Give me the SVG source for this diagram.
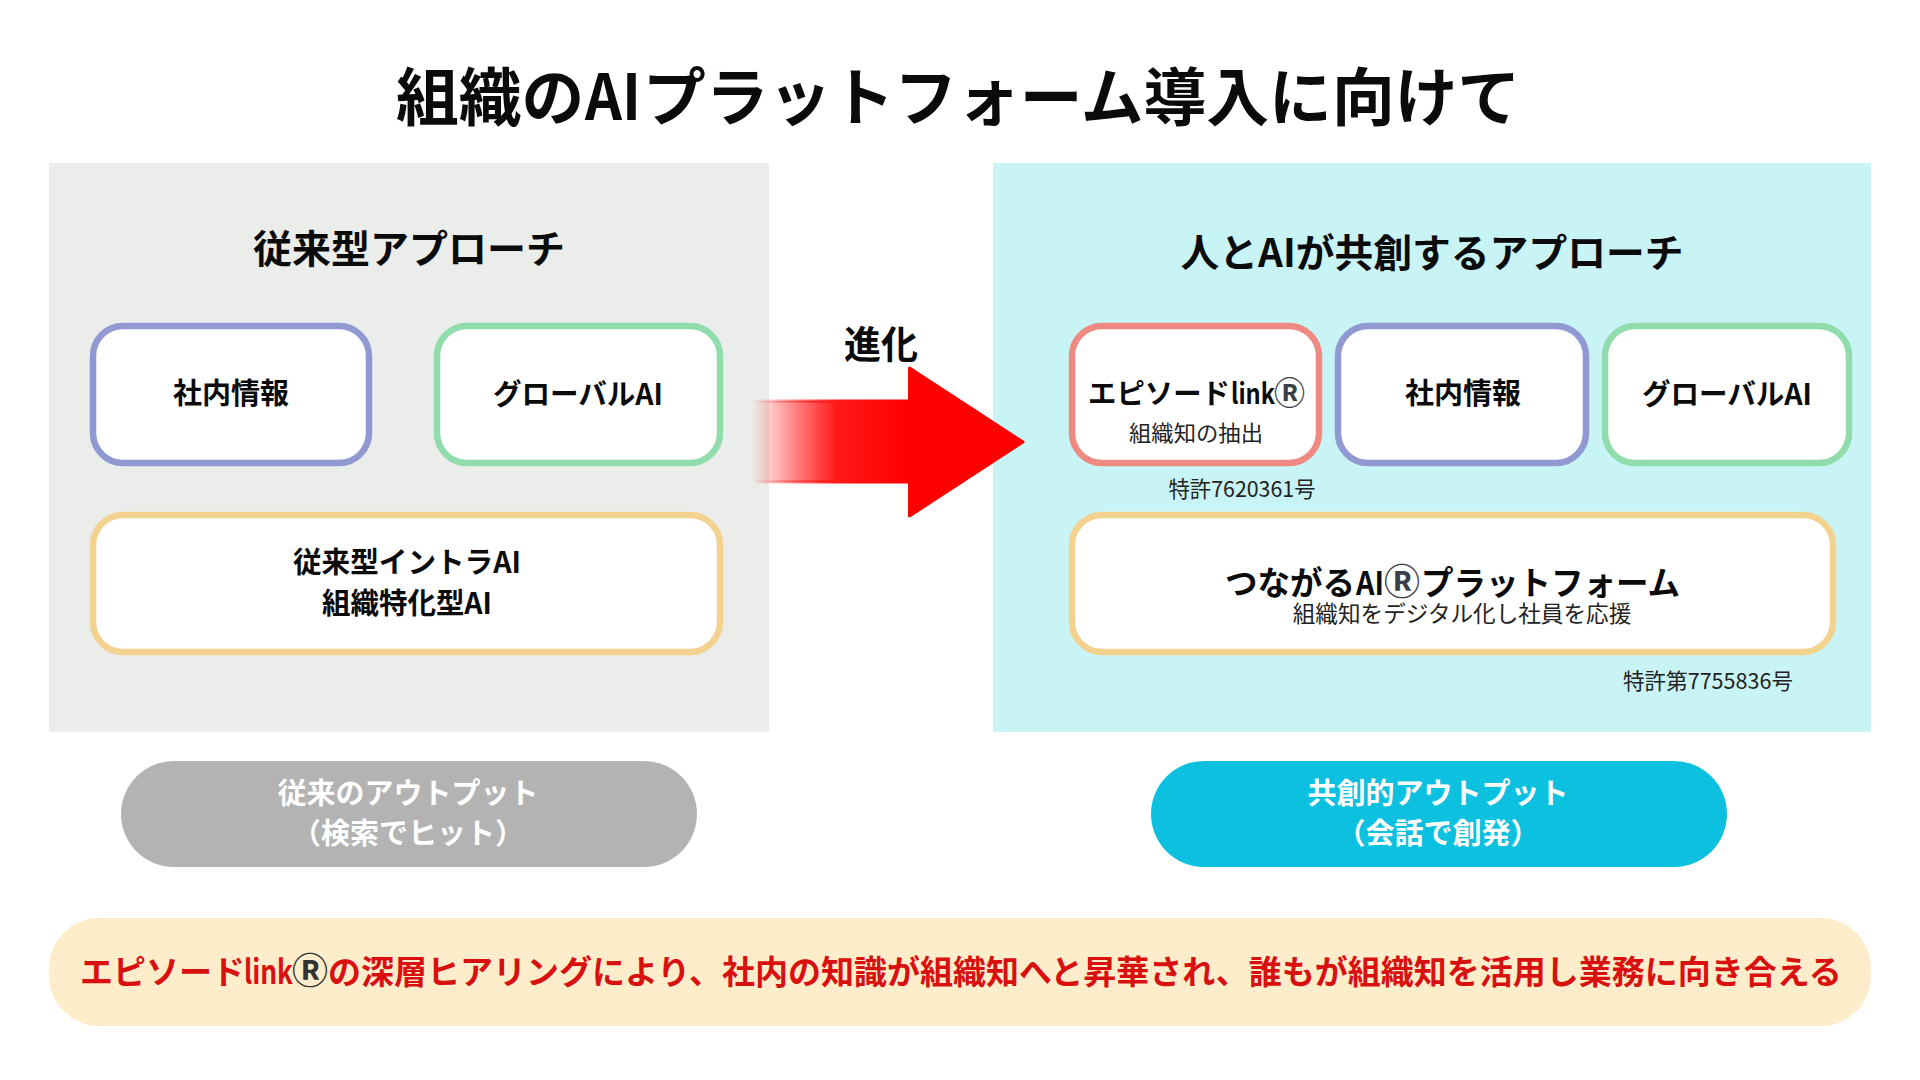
<svg xmlns="http://www.w3.org/2000/svg" width="1920" height="1080" viewBox="0 0 1920 1080">
<style>
text{font-family:"Noto Sans CJK JP","Noto Sans",sans-serif;text-anchor:middle;fill:#0b0b0b}
.b{font-weight:700}
.m{font-weight:400;fill:#222}
.s{text-anchor:start}
.card{fill:#fff;stroke-width:6.500}
.w{fill:#fff;font-weight:700;font-size:29px}
.r{fill:#3a4048;font-weight:700}
</style>
<defs>
<linearGradient id="g" gradientUnits="userSpaceOnUse" x1="752" y1="0" x2="905" y2="0">
<stop offset="0" stop-color="#ff0000" stop-opacity="0"/>
<stop offset="0.55" stop-color="#ff1a1a"/>
<stop offset="1" stop-color="#ff0000"/>
</linearGradient>
</defs>
<rect width="1920" height="1080" fill="#fff"/>
<text id="title" class="b s" y="120" font-size="62.800"><tspan x="396">組織の</tspan><tspan x="585" textLength="56" lengthAdjust="spacingAndGlyphs">AI</tspan><tspan x="643">プラットフォーム導入に向けて</tspan></text>
<g id="panel-left">
<rect x="49" y="163" width="720" height="569" fill="#ebedeb"/>
<text class="b" x="409" y="263" font-size="38.500" textLength="312" lengthAdjust="spacingAndGlyphs">従来型アプローチ</text>
</g>
<g id="panel-right">
<rect x="993" y="163" width="878" height="569" fill="#c8f4f5"/>
<text class="b" x="1432" y="267" font-size="38.500" textLength="503" lengthAdjust="spacingAndGlyphs">人とAIが共創するアプローチ</text>
</g>
<g id="connectors">
<path d="M752 401H909.500V368L1023 442L909.500 516V482H752Z" fill="url(#g)" stroke="url(#g)" stroke-width="3" stroke-linejoin="round"/>
<text class="b" x="881" y="358" font-size="38" textLength="74" lengthAdjust="spacingAndGlyphs">進化</text>
</g>
<g id="n1"><rect class="card" x="93" y="326" width="276" height="137" rx="30" stroke="#9199d2"/>
<text class="b" x="231" y="404" font-size="29">社内情報</text></g>
<g id="n2"><rect class="card" x="437" y="326" width="283" height="137" rx="30" stroke="#90dcac"/>
<text class="b" x="578" y="405" font-size="29" textLength="170" lengthAdjust="spacingAndGlyphs">グローバルAI</text></g>
<g id="n3"><rect class="card" x="93" y="515" width="627" height="137" rx="30" stroke="#f3d28f"/>
<text class="b" x="407" y="573" font-size="29" textLength="228" lengthAdjust="spacingAndGlyphs">従来型イントラAI</text>
<text class="b" x="407" y="614" font-size="29" textLength="170" lengthAdjust="spacingAndGlyphs">組織特化型AI</text></g>
<g id="n4"><rect class="card" x="1072" y="326" width="247" height="137" rx="30" stroke="#ee8a82"/>
<text class="b s" y="404" font-size="28.400"><tspan x="1088">エピソード</tspan><tspan x="1231" textLength="44" lengthAdjust="spacingAndGlyphs">link</tspan><tspan class="r" x="1274" font-size="31">Ⓡ</tspan></text>
<text class="m" x="1196" y="441" font-size="22" textLength="134" lengthAdjust="spacingAndGlyphs">組織知の抽出</text></g>
<g id="n5"><rect class="card" x="1338" y="326" width="248" height="137" rx="30" stroke="#9199d2"/>
<text class="b" x="1463" y="404" font-size="29">社内情報</text></g>
<g id="n6"><rect class="card" x="1605" y="326" width="244" height="137" rx="30" stroke="#90dcac"/>
<text class="b" x="1727" y="405" font-size="29" textLength="170" lengthAdjust="spacingAndGlyphs">グローバルAI</text></g>
<text id="patent1" class="m" x="1242" y="497" font-size="22" textLength="147" lengthAdjust="spacingAndGlyphs">特許7620361号</text>
<g id="n7"><rect class="card" x="1072" y="515" width="761" height="137" rx="30" stroke="#f3d28f"/>
<text class="b s" y="595" font-size="32.500"><tspan x="1225">つながる</tspan><tspan x="1356" textLength="28" lengthAdjust="spacingAndGlyphs">AI</tspan><tspan class="r" x="1384" font-size="36">Ⓡ</tspan><tspan x="1421">プラットフォーム</tspan></text>
<text class="m" x="1462" y="622" font-size="22.600">組織知をデジタル化し社員を応援</text></g>
<text id="patent2" class="m" x="1708" y="689" font-size="22" textLength="170" lengthAdjust="spacingAndGlyphs">特許第7755836号</text>
<g id="out1"><rect x="121" y="761" width="576" height="106" rx="53" fill="#b3b3b3"/>
<text class="w" x="408" y="804">従来のアウトプット</text>
<text class="w" x="408" y="844">（検索でヒット）</text></g>
<g id="out2"><rect x="1151" y="761" width="576" height="106" rx="53" fill="#0cc0df"/>
<text class="w" x="1438" y="804">共創的アウトプット</text>
<text class="w" x="1438" y="844">（会話で創発）</text></g>
<g id="banner"><rect x="49" y="918" width="1822" height="108" rx="50" fill="#fdedca"/>
<text class="b s" y="984" font-size="33" style="fill:#d91010"><tspan x="80">エピソード</tspan><tspan x="244" textLength="49" lengthAdjust="spacingAndGlyphs">link</tspan><tspan class="r" x="292" font-size="36" style="fill:#333">Ⓡ</tspan><tspan x="328">の深層ヒアリングにより、社内の知識が組織知へと昇華され、誰もが組織知を活用し業務に向き合える</tspan></text></g>
</svg>
